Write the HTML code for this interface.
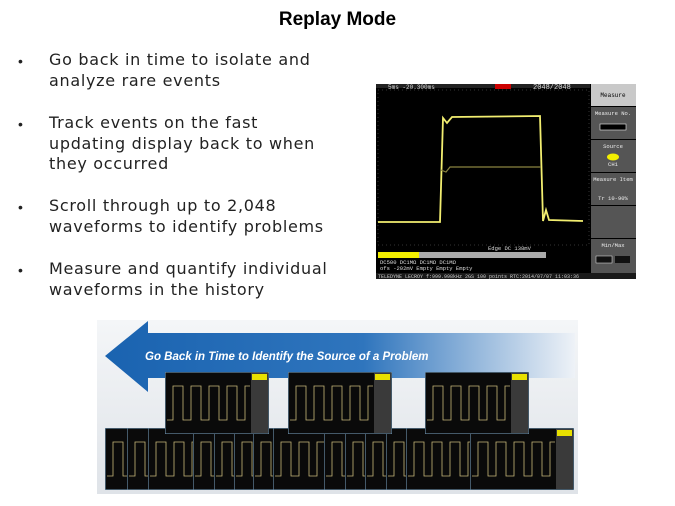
<!DOCTYPE html>
<html><head><meta charset="utf-8"><style>
body{margin:0;width:675px;height:506px;background:#fff;position:relative;overflow:hidden;font-family:"Liberation Sans",sans-serif;}
.t{position:absolute;left:0;width:675px;top:9px;text-align:center;font-weight:bold;font-size:19px;color:#000;padding-left:0}
.b{position:absolute;left:49px;font-family:"DejaVu Sans",sans-serif;font-size:16px;line-height:20.5px;color:#222;letter-spacing:0.7px;white-space:nowrap}
.d{position:absolute;left:18px;font-size:14px;color:#222}
svg{position:absolute;left:0;top:0}
</style></head><body>
<div class="t" style="left:0">Replay Mode</div>
<div class="d" style="top:53px">•</div><div class="b" style="top:50px">Go back in time to isolate and<br>analyze rare events</div>
<div class="d" style="top:116px">•</div><div class="b" style="top:113px">Track events on the fast<br>updating display back to when<br>they occurred</div>
<div class="d" style="top:199px">•</div><div class="b" style="top:196px">Scroll through up to 2,048<br>waveforms to identify problems</div>
<div class="d" style="top:262px">•</div><div class="b" style="top:259px">Measure and quantify individual<br>waveforms in the history</div>
<svg width="675" height="506" viewBox="0 0 675 506">
<defs>
<linearGradient id="g" x1="0" x2="1"><stop offset="0" stop-color="#1a63b0"/><stop offset="0.55" stop-color="#2f75bd"/><stop offset="1" stop-color="#eef2f7"/></linearGradient>
<linearGradient id="bg" x1="0" y1="0" x2="0" y2="1"><stop offset="0" stop-color="#f4f6f8"/><stop offset="1" stop-color="#dfe3e8"/></linearGradient>
<symbol id="ms" viewBox="0 0 104 62">
<rect width="104" height="62" fill="#0a0a0a" stroke="#6c8ea8" stroke-width="1.2"/>
<rect x="86" y="1" width="17" height="60" fill="#3a3a3a"/>
<rect x="87" y="2" width="15" height="6" fill="#e8e000"/>
<path d="M2 48 H8 V14 H18 V48 H26 V14 H36 V48 H44 V14 H54 V48 H62 V14 H72 V48 H80 V14 H85" fill="none" stroke="#c8b87a" stroke-width="0.8"/>
</symbol>
</defs>
<rect x="376" y="84" width="260" height="195" fill="#000"/>
<rect x="376" y="84" width="214" height="4" fill="#222"/>
<text x="388" y="89" font-size="6" fill="#ddd" font-family="Liberation Mono">5ms -20.300ms</text>
<rect x="495" y="84" width="16" height="5" fill="#c00"/>
<text x="533" y="89" font-size="7" fill="#ddd" font-family="Liberation Mono">2048/2048</text>
<rect x="378" y="90" width="211" height="155" fill="none" stroke="#333" stroke-dasharray="1 3"/>
<path d="M378 222 H440 L443 118 L447 123 L452 117 L540 116 L543 221 L546 210 L549 220 L583 221" fill="none" stroke="#f2ee70" stroke-width="1.8"/>
<path d="M441 170 L446 172 L450 167 L541 167" fill="none" stroke="#8a8440" stroke-width="1.2"/>
<rect x="591" y="84" width="45" height="22" fill="#c9c9c9"/>
<text x="613" y="97" font-size="6" text-anchor="middle" font-family="Liberation Mono">Measure</text>
<rect x="591" y="107" width="45" height="32" fill="#555"/>
<text x="613" y="115" font-size="5.5" fill="#eee" text-anchor="middle" font-family="Liberation Mono">Measure No.</text>
<rect x="600" y="124" width="26" height="6" fill="#000" stroke="#eee" stroke-width="0.6"/>
<rect x="591" y="140" width="45" height="32" fill="#555"/>
<text x="613" y="148" font-size="5.5" fill="#eee" text-anchor="middle" font-family="Liberation Mono">Source</text>
<ellipse cx="613" cy="157" rx="6" ry="3.5" fill="#f2ee00"/>
<text x="613" y="166" font-size="5.5" fill="#eee" text-anchor="middle" font-family="Liberation Mono">CH1</text>
<rect x="591" y="173" width="45" height="32" fill="#555"/>
<text x="613" y="181" font-size="5.5" fill="#eee" text-anchor="middle" font-family="Liberation Mono">Measure Item</text>
<text x="613" y="200" font-size="5.5" fill="#eee" text-anchor="middle" font-family="Liberation Mono">Tr 10-90%</text>
<rect x="591" y="206" width="45" height="32" fill="#555"/>
<rect x="591" y="239" width="45" height="40" fill="#555"/>
<text x="613" y="247" font-size="5.5" fill="#eee" text-anchor="middle" font-family="Liberation Mono">Min/Max</text>
<rect x="596" y="256" width="16" height="7" fill="#111" stroke="#eee" stroke-width="0.5"/>
<rect x="615" y="256" width="15" height="7" fill="#111"/>
<text x="488" y="250" font-size="5.5" fill="#ddd" font-family="Liberation Mono">Edge        DC       138mV</text>
<rect x="378" y="252" width="41" height="6" fill="#f2ee00"/>
<rect x="419" y="252" width="127" height="6" fill="#aaa"/>
<rect x="378" y="258" width="168" height="14" fill="#000"/>
<text x="380" y="264" font-size="5.5" fill="#ddd" font-family="Liberation Mono">DC500    DC1MΩ    DC1MΩ    DC1MΩ</text>
<text x="380" y="270" font-size="5.5" fill="#ddd" font-family="Liberation Mono">ofs -202mV Empty  Empty    Empty</text>
<rect x="376" y="273" width="260" height="6" fill="#1a1a1a"/>
<text x="378" y="278" font-size="5" fill="#ccc" font-family="Liberation Mono">TELEDYNE LECROY  f:999.998kHz 2GS  100 points  RTC:2014/07/07 11:03:36</text>
<rect x="97" y="320" width="481" height="174" fill="url(#bg)"/>
<path d="M148 333 H575 V378 H148 V392 L105 356 L148 321 Z" fill="url(#g)"/>
<text x="145" y="360" font-size="11.5" font-weight="bold" font-style="italic" fill="#fff">Go Back in Time to Identify the Source of a Problem</text>
<use href="#ms" x="105" y="428" width="104" height="62"/>
<use href="#ms" x="127" y="428" width="104" height="62"/>
<use href="#ms" x="148" y="428" width="104" height="62"/>
<use href="#ms" x="193" y="428" width="104" height="62"/>
<use href="#ms" x="214" y="428" width="104" height="62"/>
<use href="#ms" x="234" y="428" width="104" height="62"/>
<use href="#ms" x="253" y="428" width="104" height="62"/>
<use href="#ms" x="273" y="428" width="104" height="62"/>
<use href="#ms" x="324" y="428" width="104" height="62"/>
<use href="#ms" x="345" y="428" width="104" height="62"/>
<use href="#ms" x="365" y="428" width="104" height="62"/>
<use href="#ms" x="386" y="428" width="104" height="62"/>
<use href="#ms" x="406" y="428" width="104" height="62"/>
<use href="#ms" x="470" y="428" width="104" height="62"/>
<use href="#ms" x="165" y="372" width="104" height="62"/>
<use href="#ms" x="288" y="372" width="104" height="62"/>
<use href="#ms" x="425" y="372" width="104" height="62"/>
</svg>
</body></html>
